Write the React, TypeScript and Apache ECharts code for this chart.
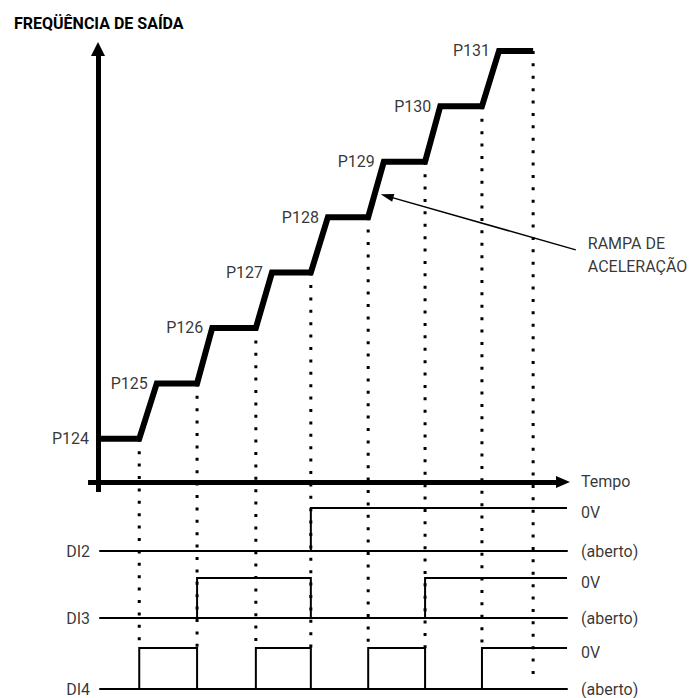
import React, { useEffect, useRef } from "react";
import * as echarts from "echarts";

// ---------------- data ----------------
const paramLabels = ["P124", "P125", "P126", "P127", "P128", "P129", "P130", "P131"];
// output frequency level of each multispeed reference (time axis = 0)
const levelValues = [0.78, 1.78, 2.78, 3.78, 4.78, 5.78, 6.78, 7.78];
// time at which each level is reached (end of acceleration ramp)
const levelStart = [0, 12.4, 24.1, 36.7, 48.5, 60.3, 72.2, 84.6];
// time at which each level ends (digital input change)
const levelEnd = [8.7, 20.9, 33.3, 44.9, 57.0, 69.0, 81.0, 91.8];
// lower end of each dotted time marker
const markerBottom = [-3.0, -3.0, -3.0, -3.0, -3.0, -3.0, -3.0, -3.57];

const signalNames = ["DI2", "DI3", "DI4"];
// intervals in which each digital input is closed (0V)
const signalHigh: number[][][] = [
  [[44.9, 98.94]],
  [[20.9, 44.9], [69.0, 98.94]],
  [[8.7, 20.9], [33.3, 44.9], [57.0, 69.0], [81.0, 98.94]],
];
const stateLabels = ["0V", "(aberto)"];

const axisTitle = "FREQÜÊNCIA DE SAÍDA";
const timeLabel = "Tempo";
const rampNote = "RAMPA DE\nACELERAÇÃO";
const rampArrowFrom = [100.8, 4.19];
const rampArrowTo = [60.97, 5.16];

// ---------------- layout / style ----------------
const FONT = "Roboto, 'Liberation Sans', sans-serif";
const BLACK = "#000";
const T_MIN = -2.11;
const T_MAX = 104.01;
const Y_MIN = -0.2166;
const Y_MAX = 7.978;
const SIG_T_MIN = 0.42;
const SIG_T_MAX = 98.94;
const TIME_AXIS_END = 98.1;
const FREQ_AXIS_BOTTOM = -0.18;
const FREQ_AXIS_TOP = 7.816;
const signalGrids = [
  { top: 508, height: 43 },
  { top: 578, height: 40 },
  { top: 648, height: 41 },
];

function signalPoints(highs: number[][]): number[][] {
  const pts: number[][] = [[SIG_T_MIN, 0]];
  let lastHigh = false;
  highs.forEach(([a, b]) => {
    pts.push([a, 0], [a, 1], [b, 1]);
    if (b < SIG_T_MAX) {
      pts.push([b, 0]);
      lastHigh = false;
    } else lastHigh = true;
  });
  if (!lastHigh) pts.push([SIG_T_MAX, 0]);
  return pts;
}

function arrowSeries(from: number[], to: number[], width: number, head: number[]) {
  return {
    type: "line",
    xAxisIndex: 0,
    yAxisIndex: 0,
    data: [],
    symbol: "none",
    silent: true,
    markLine: {
      silent: true,
      animation: false,
      symbol: ["none", "triangle"],
      label: { show: false },
      emphasis: { disabled: true },
      lineStyle: { color: BLACK, width, type: "solid", opacity: 1 },
      data: [[{ coord: from }, { coord: to, symbolSize: head }]],
    },
  };
}

function buildOption() {
  const hiddenAxis = {
    show: false,
    type: "value",
    splitLine: { show: false },
    axisTick: { show: false },
    axisLabel: { show: false },
  };

  const grids: any[] = [{ left: 88, top: 40, width: 503, height: 454 }];
  signalGrids.forEach((g) => grids.push({ left: 100, width: 467, top: g.top, height: g.height }));

  const xAxes: any[] = [{ ...hiddenAxis, gridIndex: 0, min: T_MIN, max: T_MAX }];
  const yAxes: any[] = [{ ...hiddenAxis, gridIndex: 0, min: Y_MIN, max: Y_MAX }];
  signalGrids.forEach((_, k) => {
    xAxes.push({
      type: "value",
      gridIndex: k + 1,
      min: SIG_T_MIN,
      max: SIG_T_MAX,
      position: "bottom",
      axisLine: { show: true, onZero: false, lineStyle: { color: BLACK, width: 2 } },
      axisTick: { show: false },
      axisLabel: { show: false },
      splitLine: { show: false },
    });
    yAxes.push({ ...hiddenAxis, gridIndex: k + 1, min: 0, max: 1 });
  });

  const stairData: number[][] = [];
  levelValues.forEach((v, i) => {
    stairData.push([levelStart[i], v]);
    stairData.push([levelEnd[i], v]);
  });

  const series: any[] = [];

  // dotted time markers
  levelEnd.forEach((t, i) => {
    series.push({
      type: "line",
      xAxisIndex: 0,
      yAxisIndex: 0,
      data: [
        [t, levelValues[i]],
        [t, markerBottom[i]],
      ],
      symbol: "none",
      clip: false,
      silent: true,
      z: 1,
      lineStyle: { color: BLACK, width: 3, type: [3, 9.4], cap: "butt" },
    });
  });

  // axes drawn as arrows
  series.push(arrowSeries([0, FREQ_AXIS_BOTTOM], [0, FREQ_AXIS_TOP], 5, [14, 14]));
  series.push(arrowSeries([T_MIN + 0.01, 0], [TIME_AXIS_END, 0], 5, [12, 14]));
  series.push(arrowSeries(rampArrowFrom, rampArrowTo, 1.5, [8, 13]));

  // output frequency staircase
  series.push({
    type: "line",
    xAxisIndex: 0,
    yAxisIndex: 0,
    data: stairData,
    symbol: "none",
    clip: false,
    silent: true,
    z: 4,
    lineStyle: { color: BLACK, width: 6, join: "miter", cap: "butt" },
  });

  const labelText = { color: BLACK, fontFamily: FONT, fontSize: 16 };

  // texts in the frequency plot
  series.push({
    type: "scatter",
    xAxisIndex: 0,
    yAxisIndex: 0,
    symbolSize: 0,
    clip: false,
    silent: true,
    z: 6,
    data: [
      ...paramLabels.map((n, i) => ({
        name: n,
        value: [levelStart[i], levelValues[i]],
        label: { position: "left", distance: 9 },
      })),
      {
        name: timeLabel,
        value: [TIME_AXIS_END, 0],
        label: { position: "right", distance: 18 },
      },
      {
        name: rampNote,
        value: rampArrowFrom,
        label: { position: "right", distance: 12, lineHeight: 23, align: "left", offset: [0, 5.5] },
      },
    ],
    label: { show: true, formatter: "{b}", ...labelText },
  });

  // digital input signals
  signalHigh.forEach((highs, k) => {
    series.push({
      type: "line",
      xAxisIndex: k + 1,
      yAxisIndex: k + 1,
      data: signalPoints(highs),
      symbol: "none",
      clip: false,
      silent: true,
      z: 3,
      lineStyle: { color: BLACK, width: 2, join: "miter" },
    });
    series.push({
      type: "scatter",
      xAxisIndex: k + 1,
      yAxisIndex: k + 1,
      symbolSize: 0,
      clip: false,
      silent: true,
      z: 6,
      data: [
        { name: signalNames[k], value: [SIG_T_MIN, 0], label: { position: "left", distance: 10 } },
        { name: stateLabels[0], value: [SIG_T_MAX, 1], label: { position: "right", distance: 14, offset: [0, 4] } },
        { name: stateLabels[1], value: [SIG_T_MAX, 0], label: { position: "right", distance: 14 } },
      ],
      label: { show: true, formatter: "{b}", ...labelText },
    });
  });

  return {
    animation: false,
    backgroundColor: "#fff",
    title: {
      text: axisTitle,
      left: 14,
      top: 15,
      padding: 0,
      textStyle: { color: BLACK, fontFamily: FONT, fontWeight: "bold", fontSize: 16 },
    },
    grid: grids,
    xAxis: xAxes,
    yAxis: yAxes,
    series,
  };
}

export default function App() {
  const ref = useRef<HTMLDivElement>(null);
  useEffect(() => {
    const el = ref.current;
    if (!el) return;
    const chart = echarts.init(el, null, { renderer: "svg" });
    chart.setOption(buildOption() as any);
    return () => chart.dispose();
  }, []);
  return (
    <div
      ref={ref}
      style={{ position: "absolute", left: 0, top: 0, width: 692, height: 698, background: "#fff" }}
    />
  );
}
